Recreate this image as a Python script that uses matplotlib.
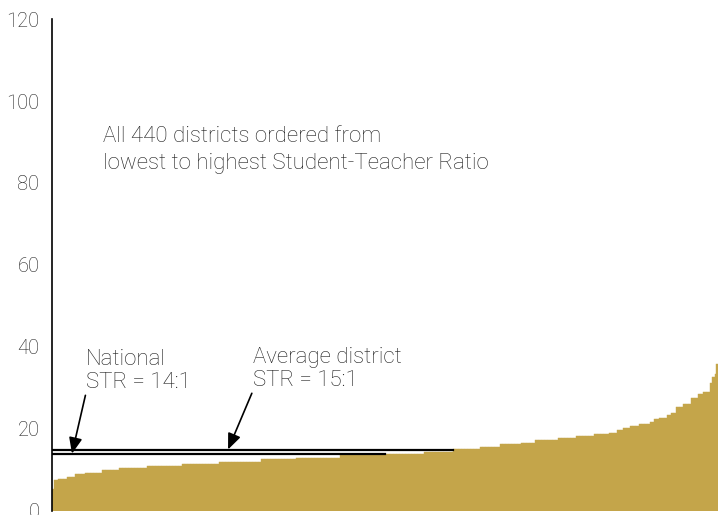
import numpy as np
import matplotlib.pyplot as plt

# student-teacher ratio plateaus, read left to right, and how many districts sit on each
str_levels = [5.3, 7.6, 7.8, 8.4, 9.0, 9.3, 10.0, 10.4, 11.0, 11.5,
              11.9, 12.6, 13.0, 13.6, 13.8, 14.5, 15.1, 15.6, 16.3, 16.6,
              17.2, 17.9, 18.2, 18.9, 19.1, 19.8, 20.3, 20.8, 21.2, 21.7,
              22.5, 22.7, 23.3, 23.9, 25.4, 26.1, 27.6, 28.5, 29.1, 31.3,
              32.8, 33.3, 35.9]
district_counts = [1, 3, 6, 5, 7, 11, 11, 19, 23, 24,
                   28, 23, 29, 30, 26, 19, 18, 13, 14, 9,
                   15, 12, 12, 10, 5, 4, 5, 6, 7, 3,
                   3, 5, 3, 3, 5, 5, 5, 3, 5, 1,
                   2, 1, 1]
national_str = 14
average_str = 15
y_ticks = [0, 20, 40, 60, 80, 100, 120]

str_values = np.repeat(str_levels, district_counts)
n = len(str_values)

bar_color = '#C4A54A'
text_color = '#1e1e1e'
plt.rcParams['font.family'] = ['Roboto', 'DejaVu Sans']

fig = plt.figure(figsize=(7.18, 5.15), dpi=100)
ax = fig.add_axes([52 / 718, 4 / 515, 666 / 718, 492 / 515])

ax.bar(np.arange(n), str_values, width=1, align='edge',
       color=bar_color, edgecolor=bar_color, linewidth=0.3)

# reference lines stop where the districts catch up with them
nat_end = np.searchsorted(str_values, national_str - 0.2)
avg_end = np.searchsorted(str_values, average_str - 0.2)
ax.plot([0, nat_end], [national_str, national_str], color='black', lw=1.6)
ax.plot([0, avg_end], [average_str, average_str], color='black', lw=1.6)

ax.set_xlim(0, n)
ax.set_ylim(0, 120)
ax.set_yticks(y_ticks)
ax.set_xticks([])
ax.tick_params(axis='y', length=0, pad=9, labelsize=14.5, labelcolor=text_color)
for lbl in ax.get_yticklabels():
    lbl.set_fontweight('light')
for side in ['top', 'right', 'bottom']:
    ax.spines[side].set_visible(False)
ax.spines['left'].set_linewidth(1.2)

ax.text(33.7, 94.0, 'All 440 districts ordered from\nlowest to highest Student-Teacher Ratio',
        fontsize=16, fontweight='light', color=text_color, va='top', ha='left',
        linespacing=1.42)

arrow = dict(arrowstyle='-|>,head_length=0.6,head_width=0.25', color='black', lw=1.2,
             shrinkA=0, shrinkB=0)
ax.annotate('National\nSTR = 14:1', xy=(13.2, national_str), xytext=(22.5, 39.6),
            fontsize=16, fontweight='light', color=text_color, va='top', ha='left',
            linespacing=1.12, arrowprops=dict(arrow, relpos=(0.0, 0.0)))
ax.annotate('Average district\nSTR = 15:1', xy=(116.3, average_str), xytext=(132.8, 40.1),
            fontsize=16, fontweight='light', color=text_color, va='top', ha='left',
            linespacing=1.12, arrowprops=dict(arrow, relpos=(0.0, 0.0)))

fig.savefig('out.png', dpi=100)
